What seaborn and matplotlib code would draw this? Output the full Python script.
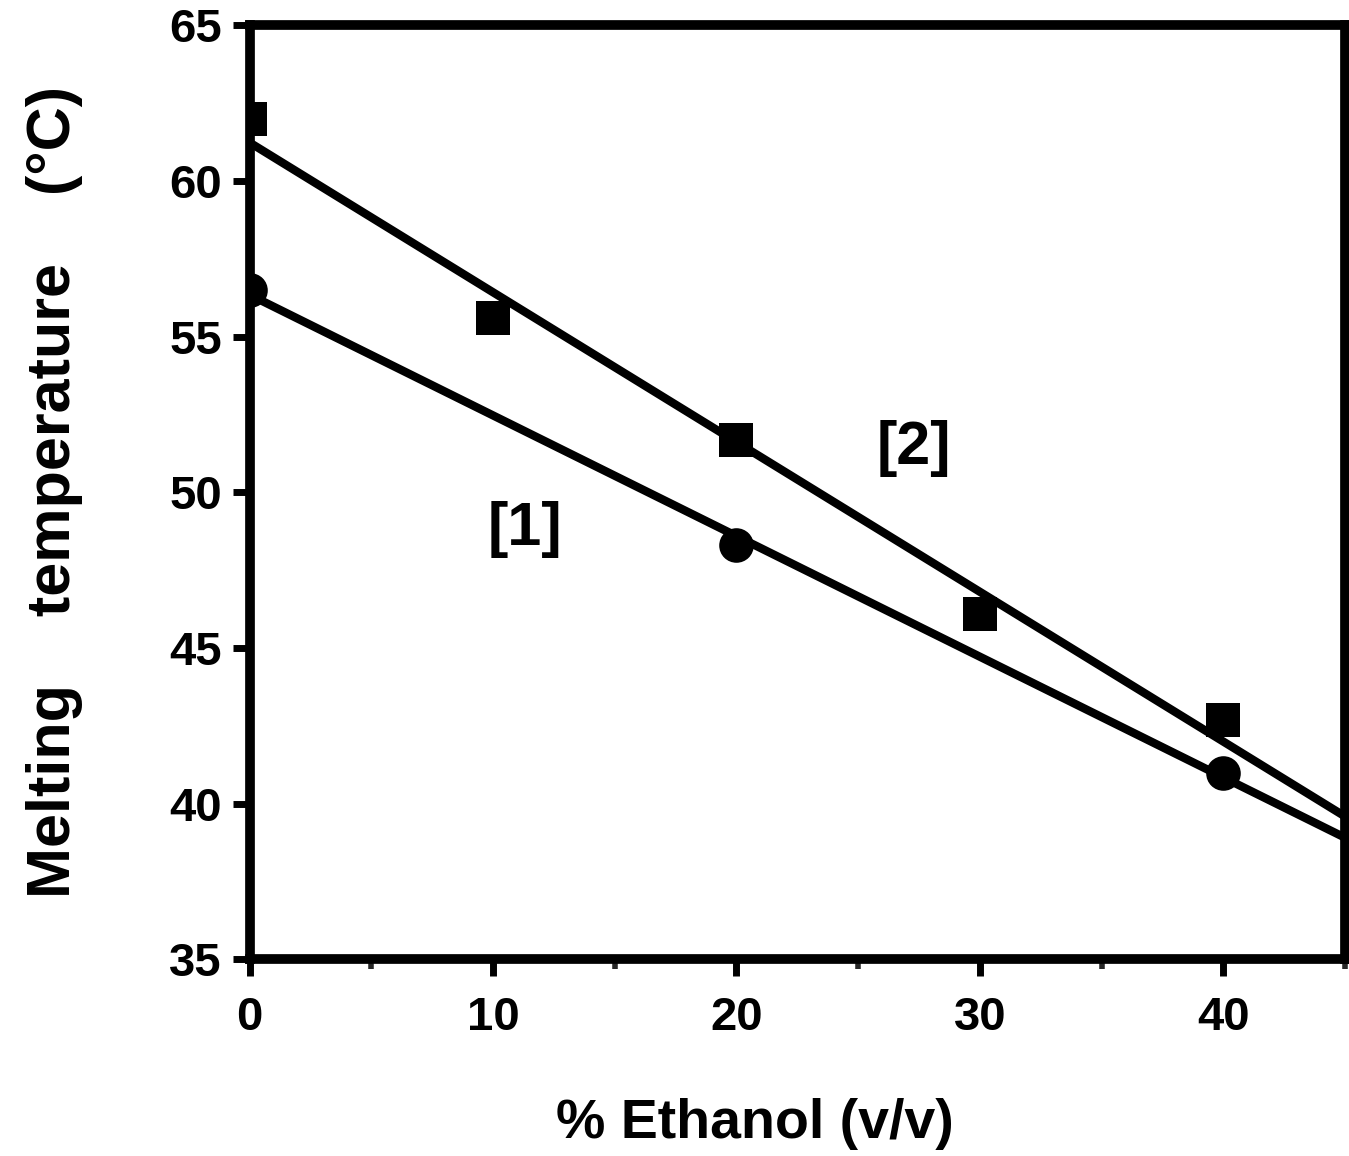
import matplotlib
matplotlib.use("Agg")
import matplotlib.pyplot as plt
import seaborn as sns
import pandas as pd
from matplotlib.ticker import MultipleLocator

sns.set_theme(style="ticks")
plt.rcParams['font.family'] = ['Liberation Sans', 'DejaVu Sans']
plt.rcParams['font.weight'] = 'bold'
plt.rcParams['text.color'] = 'black'
plt.rcParams['axes.labelcolor'] = 'black'

# Data
ethanol_sq = [0, 10, 20, 30, 40]
tm_sq = [62.0, 55.6, 51.7, 46.1, 42.7]   # series [2], squares
ethanol_ci = [0, 20, 40]
tm_ci = [56.5, 48.3, 41.0]               # series [1], circles
x_ticks = [0, 10, 20, 30, 40]
y_ticks = [35, 40, 45, 50, 55, 60, 65]

df_sq = pd.DataFrame({"x": ethanol_sq, "y": tm_sq})
df_ci = pd.DataFrame({"x": ethanol_ci, "y": tm_ci})

fig = plt.figure(figsize=(13.49, 11.56), dpi=100)
ax = fig.add_axes([0.185, 0.170, 0.812, 0.808])
ax.set_xlim(0, 45)
ax.set_ylim(35, 65)

sns.regplot(data=df_sq, x="x", y="y", ax=ax, ci=None, truncate=False,
            marker="s", color="black",
            scatter_kws={"s": 620, "zorder": 3, "linewidths": 0, "alpha": 1},
            line_kws={"lw": 6, "solid_capstyle": "butt"})
sns.regplot(data=df_ci, x="x", y="y", ax=ax, ci=None, truncate=False,
            marker="o", color="black",
            scatter_kws={"s": 620, "zorder": 3, "linewidths": 0, "alpha": 1},
            line_kws={"lw": 6, "solid_capstyle": "butt"})

ax.set_xlim(0, 45)
ax.set_ylim(35, 65)
ax.set_xticks(x_ticks)
ax.set_yticks(y_ticks)
ax.xaxis.set_minor_locator(MultipleLocator(5))

for s in ax.spines.values():
    s.set_linewidth(7)
    s.set_color("black")
    s.set_visible(True)

ax.tick_params(axis="both", which="major", direction="out", length=12, width=5,
               labelsize=34, colors="black")
ax.tick_params(axis="x", which="major", pad=14)
ax.tick_params(axis="y", which="major", pad=8)
ax.tick_params(axis="x", which="minor", direction="out", length=7, width=4)
for lbl in ax.get_xticklabels() + ax.get_yticklabels():
    lbl.set_fontweight("bold")

ax.set_xlabel("% Ethanol (v/v)", fontsize=40, fontweight="bold", color="black")
ax.xaxis.set_label_coords(0.461, -0.148)
ax.set_ylabel("Melting    temperature    (°C)", fontsize=44, fontweight="bold", color="black")
ax.yaxis.set_label_coords(-0.152, 0.50)

ax.text(11.3, 48.8, "[1]", fontsize=44, ha="center", va="center", color="black")
ax.text(27.3, 51.4, "[2]", fontsize=44, ha="center", va="center", color="black")

fig.savefig("out.png", dpi=100)
